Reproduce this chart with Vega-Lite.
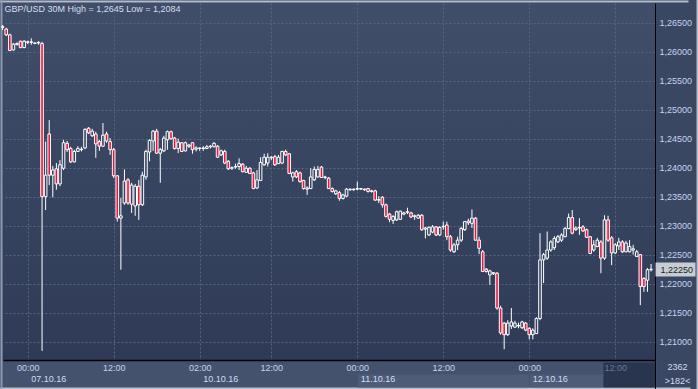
{
  "$schema": "https://vega.github.io/schema/vega-lite/v6.json",
  "width": 652,
  "height": 357,
  "autosize": {"type": "none"},
  "padding": {"left": 3, "top": 3, "right": 43, "bottom": 29},
  "background": "#3a4762",
  "config": {
    "view": {"stroke": null, "fill": {"gradient": "linear", "x1": 0, "y1": 0, "x2": 0, "y2": 1, "stops": [{"offset": 0, "color": "#404e6a"}, {"offset": 1, "color": "#2f3b56"}]}},
    "font": "Liberation Sans"
  },
  "data": {"values": [
    {"k":0,"o":1.2642,"h":1.2646,"l":1.2637,"c":1.2643},
    {"k":1,"o":1.2639,"h":1.2641,"l":1.2627,"c":1.2629},
    {"k":2,"o":1.2629,"h":1.2631,"l":1.2601,"c":1.2602},
    {"k":3,"o":1.2603,"h":1.2615,"l":1.2602,"c":1.2613},
    {"k":4,"o":1.2612,"h":1.2616,"l":1.2611,"c":1.2614},
    {"k":5,"o":1.2618,"h":1.2619,"l":1.2606,"c":1.2607},
    {"k":6,"o":1.2607,"h":1.2620,"l":1.2606,"c":1.2618},
    {"k":7,"o":1.2617,"h":1.2619,"l":1.2613,"c":1.2616},
    {"k":8,"o":1.2616,"h":1.2623,"l":1.2612,"c":1.2617},
    {"k":9,"o":1.2614,"h":1.2616,"l":1.2613,"c":1.2615},
    {"k":10,"o":1.2615,"h":1.2618,"l":1.2612,"c":1.2616},
    {"k":11,"o":1.2614,"h":1.2617,"l":1.2084,"c":1.2350},
    {"k":12,"o":1.2350,"h":1.2445,"l":1.2327,"c":1.2387},
    {"k":13,"o":1.2458,"h":1.2482,"l":1.2370,"c":1.2387},
    {"k":14,"o":1.2387,"h":1.2403,"l":1.2349,"c":1.2396},
    {"k":15,"o":1.2398,"h":1.2408,"l":1.2362,"c":1.2372},
    {"k":16,"o":1.2372,"h":1.2413,"l":1.2368,"c":1.2405},
    {"k":17,"o":1.2399,"h":1.2448,"l":1.2396,"c":1.2443},
    {"k":18,"o":1.2442,"h":1.2446,"l":1.2427,"c":1.2431},
    {"k":19,"o":1.2433,"h":1.2436,"l":1.2408,"c":1.2410},
    {"k":20,"o":1.2410,"h":1.2431,"l":1.2409,"c":1.2428},
    {"k":21,"o":1.2428,"h":1.2437,"l":1.2427,"c":1.2433},
    {"k":22,"o":1.2431,"h":1.2436,"l":1.2428,"c":1.2432},
    {"k":23,"o":1.2434,"h":1.2468,"l":1.2432,"c":1.2466},
    {"k":24,"o":1.2468,"h":1.2470,"l":1.2458,"c":1.2460},
    {"k":25,"o":1.2455,"h":1.2467,"l":1.2453,"c":1.2463},
    {"k":26,"o":1.2458,"h":1.2462,"l":1.2417,"c":1.2441},
    {"k":27,"o":1.2445,"h":1.2448,"l":1.2429,"c":1.2437},
    {"k":28,"o":1.2437,"h":1.2477,"l":1.2436,"c":1.2456},
    {"k":29,"o":1.2458,"h":1.2462,"l":1.2443,"c":1.2446},
    {"k":30,"o":1.2445,"h":1.2451,"l":1.2422,"c":1.2431},
    {"k":31,"o":1.2431,"h":1.2434,"l":1.2382,"c":1.2386},
    {"k":32,"o":1.2386,"h":1.2387,"l":1.2307,"c":1.2313},
    {"k":33,"o":1.2313,"h":1.2348,"l":1.2224,"c":1.2317},
    {"k":34,"o":1.2339,"h":1.2397,"l":1.2336,"c":1.2377},
    {"k":35,"o":1.2379,"h":1.2382,"l":1.2336,"c":1.2339},
    {"k":36,"o":1.2337,"h":1.2374,"l":1.2322,"c":1.2370},
    {"k":37,"o":1.2334,"h":1.2372,"l":1.2317,"c":1.2368},
    {"k":38,"o":1.2368,"h":1.2379,"l":1.2310,"c":1.2336},
    {"k":39,"o":1.2336,"h":1.2393,"l":1.2334,"c":1.2387},
    {"k":40,"o":1.2384,"h":1.2431,"l":1.2379,"c":1.2428},
    {"k":41,"o":1.2427,"h":1.2449,"l":1.2411,"c":1.2447},
    {"k":42,"o":1.2446,"h":1.2465,"l":1.2429,"c":1.2463},
    {"k":43,"o":1.2463,"h":1.2467,"l":1.2424,"c":1.2425},
    {"k":44,"o":1.2425,"h":1.2434,"l":1.2374,"c":1.2431},
    {"k":45,"o":1.2429,"h":1.2455,"l":1.2427,"c":1.2451},
    {"k":46,"o":1.2448,"h":1.2464,"l":1.2431,"c":1.2462},
    {"k":47,"o":1.2462,"h":1.2464,"l":1.2448,"c":1.2450},
    {"k":48,"o":1.2451,"h":1.2453,"l":1.2431,"c":1.2433},
    {"k":49,"o":1.2433,"h":1.2450,"l":1.2425,"c":1.2444},
    {"k":50,"o":1.2443,"h":1.2444,"l":1.2427,"c":1.2428},
    {"k":51,"o":1.2429,"h":1.2445,"l":1.2428,"c":1.2443},
    {"k":52,"o":1.2439,"h":1.2441,"l":1.2434,"c":1.2437},
    {"k":53,"o":1.2443,"h":1.2444,"l":1.2424,"c":1.2431},
    {"k":54,"o":1.2432,"h":1.2437,"l":1.2428,"c":1.2434},
    {"k":55,"o":1.2433,"h":1.2435,"l":1.2429,"c":1.2434},
    {"k":56,"o":1.2434,"h":1.2437,"l":1.2429,"c":1.2433},
    {"k":57,"o":1.2433,"h":1.2439,"l":1.2432,"c":1.2436},
    {"k":58,"o":1.2436,"h":1.2439,"l":1.2433,"c":1.2437},
    {"k":59,"o":1.2436,"h":1.2444,"l":1.2435,"c":1.2442},
    {"k":60,"o":1.2437,"h":1.2439,"l":1.2417,"c":1.2418},
    {"k":61,"o":1.2422,"h":1.2431,"l":1.2420,"c":1.2429},
    {"k":62,"o":1.2428,"h":1.2431,"l":1.2406,"c":1.2408},
    {"k":63,"o":1.2411,"h":1.2413,"l":1.2396,"c":1.2398},
    {"k":64,"o":1.2399,"h":1.2402,"l":1.2396,"c":1.2400},
    {"k":65,"o":1.2401,"h":1.2407,"l":1.2398,"c":1.2402},
    {"k":66,"o":1.2402,"h":1.2416,"l":1.2396,"c":1.2407},
    {"k":67,"o":1.2406,"h":1.2408,"l":1.2392,"c":1.2393},
    {"k":68,"o":1.2392,"h":1.2403,"l":1.2391,"c":1.2399},
    {"k":69,"o":1.2399,"h":1.2401,"l":1.2389,"c":1.2390},
    {"k":70,"o":1.2391,"h":1.2393,"l":1.2363,"c":1.2364},
    {"k":71,"o":1.2365,"h":1.2396,"l":1.2363,"c":1.2379},
    {"k":72,"o":1.2378,"h":1.2418,"l":1.2377,"c":1.2409},
    {"k":73,"o":1.2405,"h":1.2424,"l":1.2403,"c":1.2418},
    {"k":74,"o":1.2408,"h":1.2425,"l":1.2402,"c":1.2418},
    {"k":75,"o":1.2417,"h":1.2420,"l":1.2413,"c":1.2418},
    {"k":76,"o":1.2419,"h":1.2422,"l":1.2403,"c":1.2405},
    {"k":77,"o":1.2407,"h":1.2422,"l":1.2406,"c":1.2418},
    {"k":78,"o":1.2408,"h":1.2429,"l":1.2406,"c":1.2428},
    {"k":79,"o":1.2428,"h":1.2431,"l":1.2420,"c":1.2422},
    {"k":80,"o":1.2424,"h":1.2425,"l":1.2389,"c":1.2390},
    {"k":81,"o":1.2384,"h":1.2393,"l":1.2376,"c":1.2391},
    {"k":82,"o":1.2393,"h":1.2396,"l":1.2382,"c":1.2384},
    {"k":83,"o":1.2391,"h":1.2393,"l":1.2374,"c":1.2376},
    {"k":84,"o":1.2378,"h":1.2379,"l":1.2362,"c":1.2364},
    {"k":85,"o":1.2365,"h":1.2368,"l":1.2353,"c":1.2363},
    {"k":86,"o":1.2364,"h":1.2399,"l":1.2363,"c":1.2384},
    {"k":87,"o":1.2379,"h":1.2402,"l":1.2377,"c":1.2397},
    {"k":88,"o":1.2384,"h":1.2403,"l":1.2383,"c":1.2397},
    {"k":89,"o":1.2401,"h":1.2403,"l":1.2382,"c":1.2383},
    {"k":90,"o":1.2383,"h":1.2386,"l":1.2380,"c":1.2384},
    {"k":91,"o":1.2382,"h":1.2384,"l":1.2363,"c":1.2364},
    {"k":92,"o":1.2364,"h":1.2366,"l":1.2357,"c":1.2359},
    {"k":93,"o":1.2355,"h":1.2362,"l":1.2353,"c":1.2360},
    {"k":94,"o":1.2357,"h":1.2360,"l":1.2343,"c":1.2347},
    {"k":95,"o":1.2347,"h":1.2355,"l":1.2345,"c":1.2353},
    {"k":96,"o":1.2351,"h":1.2365,"l":1.2349,"c":1.2363},
    {"k":97,"o":1.2362,"h":1.2364,"l":1.2360,"c":1.2363},
    {"k":98,"o":1.2362,"h":1.2364,"l":1.2360,"c":1.2363},
    {"k":99,"o":1.2363,"h":1.2376,"l":1.2361,"c":1.2364},
    {"k":100,"o":1.2364,"h":1.2365,"l":1.2362,"c":1.2363},
    {"k":101,"o":1.2363,"h":1.2364,"l":1.2360,"c":1.2362},
    {"k":102,"o":1.2364,"h":1.2365,"l":1.2357,"c":1.2359},
    {"k":103,"o":1.2359,"h":1.2362,"l":1.2357,"c":1.2360},
    {"k":104,"o":1.2360,"h":1.2362,"l":1.2343,"c":1.2344},
    {"k":105,"o":1.2344,"h":1.2351,"l":1.2339,"c":1.2345},
    {"k":106,"o":1.2349,"h":1.2351,"l":1.2331,"c":1.2336},
    {"k":107,"o":1.2336,"h":1.2338,"l":1.2314,"c":1.2316},
    {"k":108,"o":1.2320,"h":1.2322,"l":1.2306,"c":1.2311},
    {"k":109,"o":1.2309,"h":1.2318,"l":1.2303,"c":1.2316},
    {"k":110,"o":1.2310,"h":1.2326,"l":1.2308,"c":1.2324},
    {"k":111,"o":1.2311,"h":1.2326,"l":1.2310,"c":1.2325},
    {"k":112,"o":1.2322,"h":1.2324,"l":1.2318,"c":1.2320},
    {"k":113,"o":1.2323,"h":1.2331,"l":1.2320,"c":1.2324},
    {"k":114,"o":1.2322,"h":1.2324,"l":1.2313,"c":1.2315},
    {"k":115,"o":1.2316,"h":1.2319,"l":1.2310,"c":1.2317},
    {"k":116,"o":1.2313,"h":1.2320,"l":1.2312,"c":1.2318},
    {"k":117,"o":1.2318,"h":1.2320,"l":1.2291,"c":1.2293},
    {"k":118,"o":1.2294,"h":1.2298,"l":1.2278,"c":1.2296},
    {"k":119,"o":1.2284,"h":1.2299,"l":1.2282,"c":1.2297},
    {"k":120,"o":1.2289,"h":1.2301,"l":1.2287,"c":1.2298},
    {"k":121,"o":1.2298,"h":1.2299,"l":1.2282,"c":1.2284},
    {"k":122,"o":1.2284,"h":1.2299,"l":1.2282,"c":1.2297},
    {"k":123,"o":1.2298,"h":1.2307,"l":1.2293,"c":1.2299},
    {"k":124,"o":1.2301,"h":1.2307,"l":1.2275,"c":1.2281},
    {"k":125,"o":1.2281,"h":1.2284,"l":1.2255,"c":1.2258},
    {"k":126,"o":1.2255,"h":1.2270,"l":1.2253,"c":1.2267},
    {"k":127,"o":1.2267,"h":1.2281,"l":1.2258,"c":1.2275},
    {"k":128,"o":1.2275,"h":1.2298,"l":1.2272,"c":1.2295},
    {"k":129,"o":1.2293,"h":1.2308,"l":1.2291,"c":1.2307},
    {"k":130,"o":1.2305,"h":1.2312,"l":1.2301,"c":1.2308},
    {"k":131,"o":1.2304,"h":1.2328,"l":1.2296,"c":1.2313},
    {"k":132,"o":1.2313,"h":1.2315,"l":1.2274,"c":1.2275},
    {"k":133,"o":1.2275,"h":1.2281,"l":1.2251,"c":1.2261},
    {"k":134,"o":1.2255,"h":1.2258,"l":1.2220,"c":1.2221},
    {"k":135,"o":1.2225,"h":1.2227,"l":1.2219,"c":1.2221},
    {"k":136,"o":1.2215,"h":1.2224,"l":1.2198,"c":1.2222},
    {"k":137,"o":1.2217,"h":1.2220,"l":1.2215,"c":1.2219},
    {"k":138,"o":1.2218,"h":1.2220,"l":1.2155,"c":1.2158},
    {"k":139,"o":1.2158,"h":1.2162,"l":1.2112,"c":1.2115},
    {"k":140,"o":1.2132,"h":1.2134,"l":1.2087,"c":1.2112},
    {"k":141,"o":1.2112,"h":1.2137,"l":1.2110,"c":1.2132},
    {"k":142,"o":1.2127,"h":1.2158,"l":1.2122,"c":1.2134},
    {"k":143,"o":1.2125,"h":1.2136,"l":1.2124,"c":1.2132},
    {"k":144,"o":1.2127,"h":1.2133,"l":1.2123,"c":1.2128},
    {"k":145,"o":1.2124,"h":1.2136,"l":1.2122,"c":1.2134},
    {"k":146,"o":1.2132,"h":1.2134,"l":1.2118,"c":1.2120},
    {"k":147,"o":1.2123,"h":1.2125,"l":1.2104,"c":1.2112},
    {"k":148,"o":1.2112,"h":1.2123,"l":1.2104,"c":1.2120},
    {"k":149,"o":1.2114,"h":1.2142,"l":1.2113,"c":1.2140},
    {"k":150,"o":1.2140,"h":1.2287,"l":1.2137,"c":1.2241},
    {"k":151,"o":1.2241,"h":1.2253,"l":1.2201,"c":1.2250},
    {"k":152,"o":1.2244,"h":1.2290,"l":1.2241,"c":1.2258},
    {"k":153,"o":1.2258,"h":1.2275,"l":1.2255,"c":1.2272},
    {"k":154,"o":1.2262,"h":1.2282,"l":1.2258,"c":1.2278},
    {"k":155,"o":1.2272,"h":1.2284,"l":1.2270,"c":1.2281},
    {"k":156,"o":1.2275,"h":1.2287,"l":1.2272,"c":1.2284},
    {"k":157,"o":1.2281,"h":1.2298,"l":1.2280,"c":1.2295},
    {"k":158,"o":1.2295,"h":1.2321,"l":1.2294,"c":1.2314},
    {"k":159,"o":1.2314,"h":1.2327,"l":1.2285,"c":1.2287},
    {"k":160,"o":1.2293,"h":1.2299,"l":1.2291,"c":1.2296},
    {"k":161,"o":1.2296,"h":1.2313,"l":1.2284,"c":1.2297},
    {"k":162,"o":1.2298,"h":1.2301,"l":1.2289,"c":1.2291},
    {"k":163,"o":1.2293,"h":1.2295,"l":1.2279,"c":1.2280},
    {"k":164,"o":1.2281,"h":1.2282,"l":1.2251,"c":1.2252},
    {"k":165,"o":1.2258,"h":1.2275,"l":1.2255,"c":1.2267},
    {"k":166,"o":1.2264,"h":1.2279,"l":1.2263,"c":1.2275},
    {"k":167,"o":1.2272,"h":1.2275,"l":1.2218,"c":1.2244},
    {"k":168,"o":1.2244,"h":1.2318,"l":1.2241,"c":1.2310},
    {"k":169,"o":1.2310,"h":1.2317,"l":1.2272,"c":1.2275},
    {"k":170,"o":1.2279,"h":1.2282,"l":1.2232,"c":1.2253},
    {"k":171,"o":1.2253,"h":1.2270,"l":1.2251,"c":1.2267},
    {"k":172,"o":1.2265,"h":1.2279,"l":1.2258,"c":1.2272},
    {"k":173,"o":1.2272,"h":1.2275,"l":1.2253,"c":1.2255},
    {"k":174,"o":1.2255,"h":1.2274,"l":1.2254,"c":1.2270},
    {"k":175,"o":1.2255,"h":1.2275,"l":1.2254,"c":1.2264},
    {"k":176,"o":1.2258,"h":1.2267,"l":1.2250,"c":1.2260},
    {"k":177,"o":1.2247,"h":1.2258,"l":1.2246,"c":1.2255},
    {"k":178,"o":1.2250,"h":1.2251,"l":1.2163,"c":1.2195},
    {"k":179,"o":1.2209,"h":1.2211,"l":1.2186,"c":1.2195},
    {"k":180,"o":1.2206,"h":1.2227,"l":1.2186,"c":1.2224},
    {"k":181,"o":1.2224,"h":1.2234,"l":1.2221,"c":1.2225}
  ]},
  "layer": [
    {
      "transform": [{"filter": "datum.k < 91"}],
      "mark": {"type": "rule", "color": "#ffffff", "strokeWidth": 1},
      "encoding": {
        "x": {"field": "k", "type": "quantitative",
          "scale": {"domain": [0.1, 182.1], "nice": false, "zero": false, "padding": 0},
          "axis": {"orient": "bottom", "values": [90.7, 91.5, 31, 77, 123, 157.3, 174.86, 182],
            "labels": false, "domain": false, "grid": false, "ticks": true,
            "tickSize": 29, "tickOpacity": 1, "title": null,
            "tickWidth": {"condition": [
              {"test": "datum.value == 90.7", "value": 656},
              {"test": "datum.value == 91.5", "value": 720},
              {"test": "datum.value == 77", "value": 156.5},
              {"test": "datum.value == 157.3", "value": 72.8},
              {"test": "datum.value == 174.86", "value": 52},
              {"test": "datum.value == 182", "value": 1}], "value": 171},
            "tickColor": {"condition": [
              {"test": "datum.value == 90.7", "value": "#44526d"},
              {"test": "datum.value == 91.5", "value": "#bcc3cd"},
              {"test": "datum.value == 174.86", "value": "#29344f"},
              {"test": "datum.value == 182", "value": "#000000"}], "value": "#4e5c78"},
            "tickDash": {"condition": [
              {"test": "datum.value == 90.7", "value": [27, 100]},
              {"test": "datum.value == 91.5", "value": [0, 27, 2, 100]},
              {"test": "datum.value == 174.86", "value": [0, 2, 25, 100]},
              {"test": "datum.value == 182", "value": [29, 100]}], "value": [0, 14, 13, 100]}
          }},
        "y": {"field": "l", "type": "quantitative",
          "scale": {"domain": [1.20684, 1.26839], "nice": false, "zero": false},
          "axis": {"orient": "right", "values": [1.21, 1.215, 1.22, 1.225, 1.23, 1.235, 1.24, 1.245, 1.25, 1.255, 1.26, 1.265],
            "labelExpr": "replace(format(datum.value, '.5f'), '.', ',')",
            "grid": true, "gridDash": [2, 2], "gridColor": "#58657f", "gridWidth": 1,
            "ticks": false, "domain": true, "domainColor": "#000000", "domainWidth": 1,
            "labelColor": "#c6d4ee", "labelFontSize": 9, "labelFont": "Liberation Sans", "labelPadding": 4,
            "labelBaseline": "middle", "labelFlush": false, "labelOverlap": false,
            "title": "GBP/USD 30M High = 1,2645 Low = 1,2084", "titleAngle": 0, "titleX": -651, "titleY": 8.5,
            "titleAlign": "left", "titleBaseline": "alphabetic", "titleFontSize": 9, "titleFontWeight": "normal",
            "titleColor": "#d6deea", "titleFont": "Liberation Sans"}},
        "y2": {"field": "h"}
      }
    },
    {
      "transform": [{"filter": "datum.k >= 91"}],
      "mark": {"type": "rule", "color": "#ffffff", "strokeWidth": 1},
      "encoding": {
        "x": {"field": "k", "type": "quantitative",
          "axis": {"orient": "top", "values": [90.7], "labels": false, "domain": false, "grid": false,
            "ticks": true, "tickSize": 3, "tickWidth": 720, "tickColor": "#b4bcc8", "tickOpacity": 1,
            "tickDash": [0, 1, 2, 100], "title": null}},
        "y": {"field": "l", "type": "quantitative",
          "axis": {"orient": "left", "values": [1.2376], "labels": false, "domain": false, "grid": false,
            "ticks": true, "tickSize": 3, "tickWidth": 420, "tickColor": "#8f9aad", "tickOpacity": 1,
            "tickDash": [0, 1, 2, 100], "title": null}},
        "y2": {"field": "h"}
      }
    },
    {
      "transform": [{"filter": "datum.c >= datum.o"}],
      "mark": {"type": "bar", "width": 2.6, "stroke": "#ffffff", "strokeWidth": 1, "fill": "#36435e"},
      "encoding": {
        "x": {"field": "k", "type": "quantitative",
          "axis": {"orient": "bottom", "values": [7, 31, 55, 75, 99, 123, 147, 171],
            "labelExpr": "['00:00','12:00','02:00','12:00','00:00','12:00','00:00','12:00'][indexof([7,31,55,75,99,123,147,171], datum.value)]",
            "grid": true, "gridDash": [2, 2], "gridColor": "#58657f", "gridWidth": 1,
            "ticks": false, "domain": true, "domainColor": "#000000", "domainWidth": 1.5,
            "labelColor": {"condition": {"test": "datum.value == 171", "value": "#6b7893"}, "value": "#c6d4ee"},
            "labelAlign": "center",
            "labelFontSize": 9, "labelFont": "Liberation Sans", "labelPadding": 3, "labelBaseline": "top",
            "labelFlush": false, "labelOverlap": false, "labelBound": false, "title": null}},
        "y": {"field": "o", "type": "quantitative",
          "axis": {"orient": "right", "values": [1.2225], "labelExpr": "'1,22250'",
            "grid": false, "domain": false, "ticks": true, "tickSize": 40, "tickWidth": 14,
            "tickColor": "#c8cdd5", "tickOpacity": 1, "labelColor": "#1c1c1c", "labelPadding": -35,
            "labelFontSize": 9, "labelFont": "Liberation Sans", "labelBaseline": "middle",
            "labelFlush": false, "labelOverlap": false, "title": null}},
        "y2": {"field": "c"}
      }
    },
    {
      "transform": [{"filter": "datum.c < datum.o"}],
      "mark": {"type": "bar", "width": 2.6, "stroke": "#ffffff", "strokeWidth": 1, "fill": "#e8173e"},
      "encoding": {
        "x": {"field": "k", "type": "quantitative",
          "axis": {"orient": "bottom", "values": [7, 55, 99, 147, 181],
            "labelExpr": "datum.value == 181 ? ['2362', '>182<'] : ['07.10.16','10.10.16','11.10.16','12.10.16'][indexof([7,55,99,147], datum.value)]",
            "grid": false, "ticks": false, "domain": false,
            "labelBaseline": "top", "labelLineHeight": 14,
            "labelAlign": {"condition": {"test": "datum.value == 181", "value": "center"}, "value": "left"},
            "labelOffset": {"condition": {"test": "datum.value == 181", "value": 26}, "value": 3},
            "labelPadding": {"condition": {"test": "datum.value == 181", "value": 2}, "value": 14},
            "labelColor": "#d2ddf0", "labelFontSize": 9, "labelFont": "Liberation Sans",
            "labelFlush": false, "labelOverlap": false, "labelBound": false, "title": null}},
        "y": {"field": "o", "type": "quantitative",
          "axis": {"orient": "right", "values": [1.2376], "labels": false, "domain": false, "grid": false,
            "ticks": true, "tickSize": 43, "tickWidth": 420, "tickColor": "#b4bcc8", "tickOpacity": 1,
            "tickDash": [0, 41, 2, 100], "title": null}},
        "y2": {"field": "c"}
      }
    }
  ],
  "resolve": {"axis": {"x": "independent", "y": "independent"}}
}
